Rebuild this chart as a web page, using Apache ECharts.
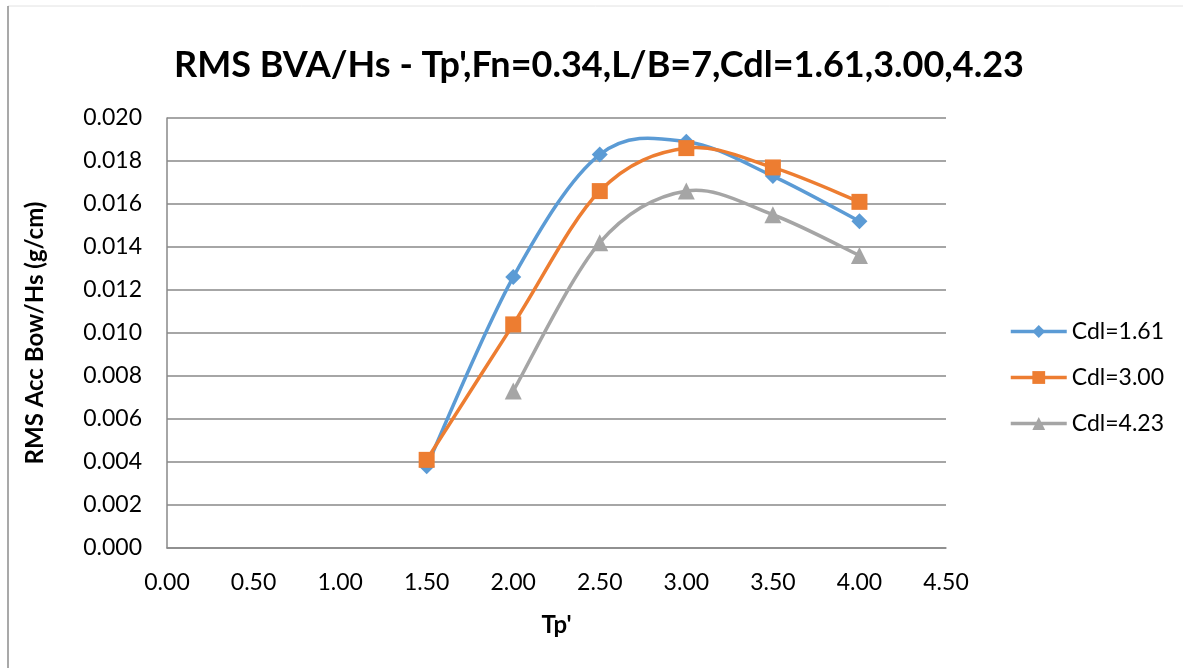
<!DOCTYPE html>
<html>
<head>
<meta charset="utf-8">
<script src="https://cdn.jsdelivr.net/npm/echarts@6/dist/echarts.min.js"></script>
<style>
  html, body { margin: 0; padding: 0; background: #fff; }
  #chart { width: 1183px; height: 668px; }
</style>
</head>
<body>
<div id="chart"></div>
<script>
// Tp' values and RMS bow acceleration per Hs for each Cdl case
const tp = [1.5, 2.0, 2.5, 3.0, 3.5, 4.0];
const cdl161 = [0.0038, 0.0126, 0.0183, 0.0189, 0.0173, 0.0152];
const cdl300 = [0.0041, 0.0104, 0.0166, 0.0186, 0.0177, 0.0161];
const tpCdl423 = [2.0, 2.5, 3.0, 3.5, 4.0];
const cdl423 = [0.0073, 0.0142, 0.0166, 0.0155, 0.0136];
const seriesNames = ['Cdl=1.61', 'Cdl=3.00', 'Cdl=4.23'];
const titleText = "RMS BVA/Hs - Tp',Fn=0.34,L/B=7,Cdl=1.61,3.00,4.23";
const xAxisName = "Tp'";
const yAxisName = 'RMS Acc Bow/Hs (g/cm)';

const FONT = 'Lato, "Open Sans", sans-serif';
const COLORS = ['#5B9BD5', '#ED7D31', '#A5A5A5'];
const pairs = (xs, ys) => xs.map((x, i) => [x, ys[i]]);

const chart = echarts.init(document.getElementById('chart'), null, { renderer: 'canvas' });

// Smooth curve: each data item draws the cubic segment to the next point,
// with Catmull-Rom tangents computed in pixel space via the axis scales.
function curveSeries(name, pts, color) {
  return {
    name: name + ' curve',
    type: 'custom',
    data: pts,
    encode: { x: 0, y: 1 },
    z: 2,
    silent: true,
    renderItem: function (params, api) {
      const i = params.dataIndex;
      if (i >= pts.length - 1) return null;
      const c = pts.map(p => api.coord(p));
      const p0 = c[Math.max(i - 1, 0)];
      const p1 = c[i];
      const p2 = c[i + 1];
      const p3 = c[Math.min(i + 2, c.length - 1)];
      const k = 1 / 6;
      return {
        type: 'bezierCurve',
        shape: {
          x1: p1[0], y1: p1[1],
          x2: p2[0], y2: p2[1],
          cpx1: p1[0] + (p2[0] - p0[0]) * k,
          cpy1: p1[1] + (p2[1] - p0[1]) * k,
          cpx2: p2[0] - (p3[0] - p1[0]) * k,
          cpy2: p2[1] - (p3[1] - p1[1]) * k
        },
        style: { stroke: color, lineWidth: 3.5, fill: null, lineCap: 'round' }
      };
    }
  };
}

// Markers (and legend entries) drawn by line series without their own stroke
function markerSeries(name, pts, color, symbol, size) {
  return {
    name: name,
    type: 'line',
    data: pts,
    symbol: symbol,
    symbolSize: size,
    showAllSymbol: true,
    lineStyle: { color: color, width: 3.5, opacity: 0 },
    itemStyle: { color: color },
    emphasis: { disabled: true },
    z: 3
  };
}

const s1 = pairs(tp, cdl161);
const s2 = pairs(tp, cdl300);
const s3 = pairs(tpCdl423, cdl423);

chart.setOption({
  animation: false,
  backgroundColor: '#fff',
  color: COLORS,
  graphic: [
    { type: 'line', shape: { x1: 8, y1: 6, x2: 1183, y2: 6 }, style: { stroke: '#e2e2e2', lineWidth: 1 } },
    { type: 'line', shape: { x1: 8, y1: 6, x2: 8, y2: 668 }, style: { stroke: '#8c8c8c', lineWidth: 1.5 } }
  ],
  title: {
    text: titleText,
    left: 594,
    textAlign: 'center',
    top: 42,
    textStyle: { fontFamily: FONT, fontWeight: 'bold', fontSize: 36, color: '#000' }
  },
  legend: {
    orient: 'vertical',
    left: 1004,
    top: 315,
    itemWidth: 56,
    itemHeight: 16,
    itemGap: 23,
    data: seriesNames,
    lineStyle: { opacity: 1, width: 3.5 },
    textStyle: { fontFamily: FONT, fontSize: 23, color: '#000' }
  },
  grid: { left: 167, right: 237, top: 118, bottom: 120, containLabel: false },
  xAxis: {
    type: 'value',
    min: 0,
    max: 4.5,
    interval: 0.5,
    name: xAxisName,
    nameLocation: 'middle',
    nameGap: 65,
    nameTextStyle: { fontFamily: FONT, fontWeight: 'bold', fontSize: 24, color: '#000' },
    axisLine: { show: true, lineStyle: { color: '#898989', width: 1.5 } },
    axisTick: { show: false },
    splitLine: { show: false },
    axisLabel: {
      margin: 23,
      fontFamily: FONT, fontSize: 23, color: '#000',
      formatter: v => v.toFixed(2)
    }
  },
  yAxis: {
    type: 'value',
    min: 0,
    max: 0.02,
    interval: 0.002,
    name: yAxisName,
    nameLocation: 'middle',
    nameGap: 120,
    nameTextStyle: { fontFamily: FONT, fontWeight: 'bold', fontSize: 24, color: '#000' },
    axisLine: { show: true, lineStyle: { color: '#898989', width: 1.5 } },
    axisTick: { show: false },
    splitLine: { show: true, lineStyle: { color: '#898989', width: 1.5 } },
    axisLabel: {
      margin: 25,
      fontFamily: FONT, fontSize: 23, color: '#000',
      formatter: v => v.toFixed(3)
    }
  },
  series: [
    curveSeries(seriesNames[0], s1, COLORS[0]),
    markerSeries(seriesNames[0], s1, COLORS[0], 'diamond', 16),
    curveSeries(seriesNames[1], s2, COLORS[1]),
    markerSeries(seriesNames[1], s2, COLORS[1], 'rect', 16),
    curveSeries(seriesNames[2], s3, COLORS[2]),
    markerSeries(seriesNames[2], s3, COLORS[2], 'triangle', 17)
  ]
});
</script>
</body>
</html>
